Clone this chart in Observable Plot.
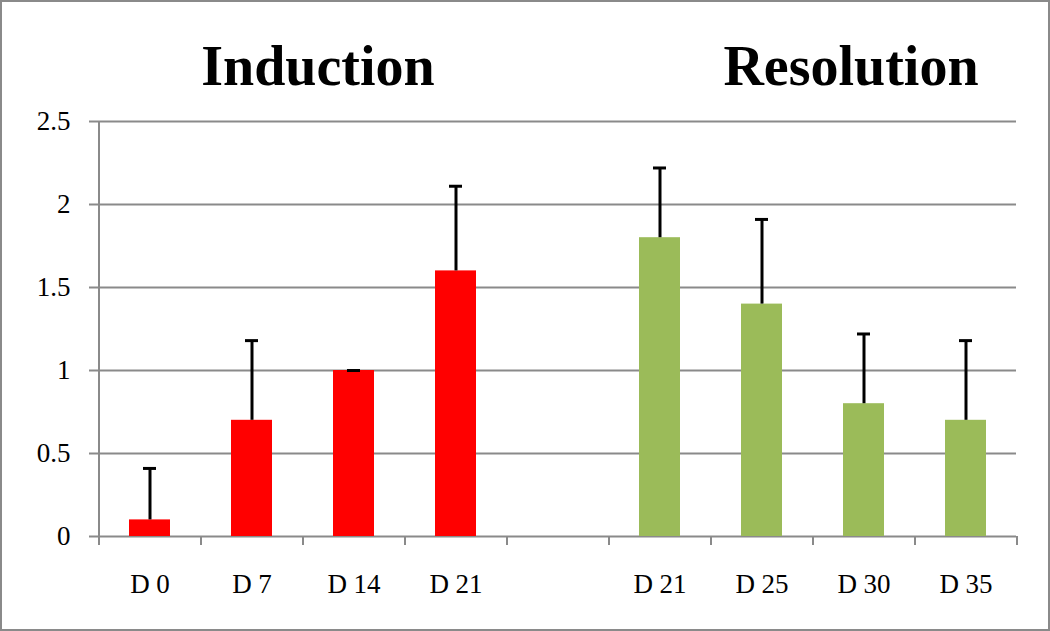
<!DOCTYPE html>
<html>
<head>
<meta charset="utf-8">
<script src="https://cdn.jsdelivr.net/npm/d3@7"></script>
<script src="https://cdn.jsdelivr.net/npm/@observablehq/plot@0.6"></script>
<style>
  html, body { margin: 0; padding: 0; background: #fff; }
  #wrap { position: relative; width: 1050px; height: 631px; overflow: hidden; background: #fff; }
  #border { position: absolute; left: 0; top: 0; width: 1050px; height: 631px; box-sizing: border-box; border: 2px solid #8a8a8a; pointer-events: none; }
  .ttl { position: absolute; top: 34px; font-family: "Liberation Serif", serif; font-weight: bold; font-size: 56px; line-height: 64px; color: #000; white-space: nowrap; transform: translateX(-50%); }
  #chart { position: absolute; left: 0; top: 100px; }
</style>
</head>
<body>
<div id="wrap">
  <div class="ttl" id="t1"></div>
  <div class="ttl" id="t2"></div>
  <div id="chart"></div>
  <div id="border"></div>
</div>
<script>
const titles = ["Induction", "Resolution"];
const titleCenters = [318, 851];
const keys = ["D0", "D7", "D14", "D21a", "gap", "D21b", "D25", "D30", "D35"];
const labels = ["D 0", "D 7", "D 14", "D 21", "", "D 21", "D 25", "D 30", "D 35"];
const values = [0.1, 0.7, 1.0, 1.6, null, 1.8, 1.4, 0.8, 0.7];
const errTop = [0.41, 1.18, 1.0, 2.11, null, 2.22, 1.91, 1.22, 1.18];
const groups = ["Induction", "Induction", "Induction", "Induction", "", "Resolution", "Resolution", "Resolution", "Resolution"];
const yTicks = [0, 0.5, 1, 1.5, 2, 2.5];
const yTickLabels = ["0", "0.5", "1", "1.5", "2", "2.5"];

document.getElementById("t1").textContent = titles[0];
document.getElementById("t2").textContent = titles[1];
document.getElementById("t1").style.left = titleCenters[0] + "px";
document.getElementById("t2").style.left = titleCenters[1] + "px";

const data = keys.map((k, i) => ({key: k, label: labels[i], value: values[i], err: errTop[i], group: groups[i]}))
  .filter(d => d.value != null);
const labelOf = new Map(keys.map((k, i) => [k, labels[i]]));

const W = 1050, H = 531;
const mL = 98, mR = 34, mT = 21, mB = 95;
const step = (W - mL - mR) / keys.length;
const font = "Liberation Serif, serif";
const grid = "#8a8a8a";

const chart = Plot.plot({
  width: W,
  height: H,
  marginLeft: mL,
  marginRight: mR,
  marginTop: mT,
  marginBottom: mB,
  style: {fontFamily: font, fontSize: "27px", color: "#000", background: "#fff"},
  x: {domain: keys, paddingInner: 0.6, paddingOuter: 0.3, label: null},
  y: {domain: [0, 2.5], label: null},
  color: {domain: ["Induction", "Resolution"], range: ["#FF0000", "#9BBB59"]},
  marks: [
    // gridlines
    Plot.ruleY(yTicks, {stroke: grid, strokeWidth: 2, insetLeft: -9}),
    // y axis line
    Plot.ruleX([keys[0]], {x: d => d, dx: -step / 2, stroke: grid, strokeWidth: 2, insetBottom: -9}),
    // category boundary ticks
    Plot.ruleX(keys, {x: d => d, dx: -step / 2, y1: 0, y2: 0, insetBottom: -9, stroke: grid, strokeWidth: 2}),
    Plot.ruleX([keys[keys.length - 1]], {x: d => d, dx: step / 2, y1: 0, y2: 0, insetBottom: -9, stroke: grid, strokeWidth: 2}),
    // bars
    Plot.barY(data, {x: "key", y: "value", fill: "group"}),
    // error bars
    Plot.ruleX(data, {x: "key", y1: "value", y2: "err", stroke: "#000", strokeWidth: 3}),
    Plot.tickY(data, {x: "key", y: "err", stroke: "#000", strokeWidth: 3, inset: 14}),
    Plot.axisY({ticks: yTicks, tickFormat: (d) => yTickLabels[yTicks.indexOf(d)], tickSize: 0, tickPadding: 28, fontSize: 27, fontFamily: font}),
    Plot.axisX({tickSize: 0, tickPadding: 37, tickFormat: (d) => labelOf.get(d), fontSize: 27, fontFamily: font})
  ]
});
document.getElementById("chart").appendChild(chart);
</script>
</body>
</html>
